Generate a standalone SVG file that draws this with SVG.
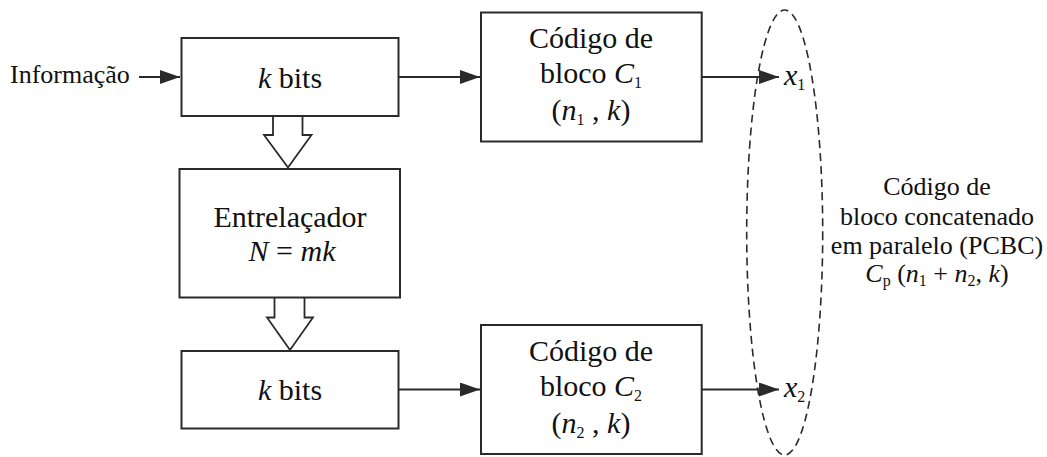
<svg xmlns="http://www.w3.org/2000/svg" width="1047" height="457" viewBox="0 0 1047 457" font-family="Liberation Serif" font-size="26">
<style>
.box{fill:#fff;stroke:#2a2a2a;stroke-width:2}
.hollow{fill:#fff;stroke:#2a2a2a;stroke-width:1.8;stroke-linejoin:miter}
.line{fill:none;stroke:#2a2a2a;stroke-width:2}
.dash{fill:none;stroke:#2a2a2a;stroke-width:1.6;stroke-dasharray:8 5}
text{fill:#111}
.b{font-size:30px}
.c{text-anchor:middle}
.i{font-style:italic}
.s{font-size:16px;font-style:normal}
</style>
<defs>
<marker id="ah" markerUnits="userSpaceOnUse" markerWidth="20" markerHeight="14" refX="20" refY="7" orient="auto">
<path d="M0,0 L20,7 L0,14 Z" fill="#2a2a2a"/>
</marker>
</defs>
<g id="connectors">
<path class="line" d="M139,77 H180" marker-end="url(#ah)"/>
<path class="line" d="M398.5,77 H480" marker-end="url(#ah)"/>
<path class="line" d="M398.5,389.5 H480" marker-end="url(#ah)"/>
<path class="line" d="M701.7,77 H779" marker-end="url(#ah)"/>
<path class="line" d="M701.7,389.5 H779" marker-end="url(#ah)"/>
<path class="hollow" d="M273,116 V135 H264 L288,167.5 L311.5,135 H302.5 V116"/>
<path class="hollow" d="M274.5,298 V317.5 H267 L290,350 L313,317.5 H304.5 V298"/>
</g>
<g id="input">
<text x="10" y="83">Informação</text>
</g>
<g id="kbits1">
<rect class="box" x="181.5" y="38" width="217" height="78"/>
<text class="c b" x="290" y="88"><tspan class="i">k</tspan> bits</text>
</g>
<g id="interleaver">
<rect class="box" x="179.5" y="169" width="220.5" height="128.5"/>
<text class="c b" x="290" y="227">Entrelaçador</text>
<text class="c b" x="292" y="261"><tspan class="i">N</tspan> = <tspan class="i">mk</tspan></text>
</g>
<g id="kbits2">
<rect class="box" x="181.5" y="351" width="217" height="77.5"/>
<text class="c b" x="290" y="400"><tspan class="i">k</tspan> bits</text>
</g>
<g id="code1">
<rect class="box" x="481" y="12.5" width="220.7" height="129"/>
<text class="c b" x="591" y="48">Código de</text>
<text class="c b" x="591" y="83">bloco <tspan class="i">C</tspan><tspan class="s" dy="5">1</tspan></text>
<text class="c b" x="591" y="120">(<tspan class="i">n</tspan><tspan class="s" dy="5">1</tspan><tspan dy="-5"> , </tspan><tspan class="i">k</tspan>)</text>
</g>
<g id="code2">
<rect class="box" x="481" y="325" width="220.7" height="129"/>
<text class="c b" x="591" y="361">Código de</text>
<text class="c b" x="591" y="396">bloco <tspan class="i">C</tspan><tspan class="s" dy="5">2</tspan></text>
<text class="c b" x="591" y="433">(<tspan class="i">n</tspan><tspan class="s" dy="5">2</tspan><tspan dy="-5"> , </tspan><tspan class="i">k</tspan>)</text>
</g>
<g id="outputs">
<text class="b" x="784" y="85"><tspan class="i">x</tspan><tspan class="s" dy="5">1</tspan></text>
<text class="b" x="784" y="397"><tspan class="i">x</tspan><tspan class="s" dy="5">2</tspan></text>
</g>
<g id="pcbc">
<ellipse class="dash" cx="784.7" cy="232.5" rx="38" ry="222.5"/>
<text class="c" x="937" y="195">Código de</text>
<text class="c" x="937" y="225">bloco concatenado</text>
<text class="c" x="937" y="254">em paralelo (PCBC)</text>
<text class="c" x="937" y="282"><tspan class="i">C</tspan><tspan class="s" dy="4">p</tspan><tspan dy="-4"> (</tspan><tspan class="i">n</tspan><tspan class="s" dy="4">1</tspan><tspan dy="-4"> + </tspan><tspan class="i">n</tspan><tspan class="s" dy="4">2</tspan><tspan dy="-4">, </tspan><tspan class="i">k</tspan>)</text>
</g>
</svg>
